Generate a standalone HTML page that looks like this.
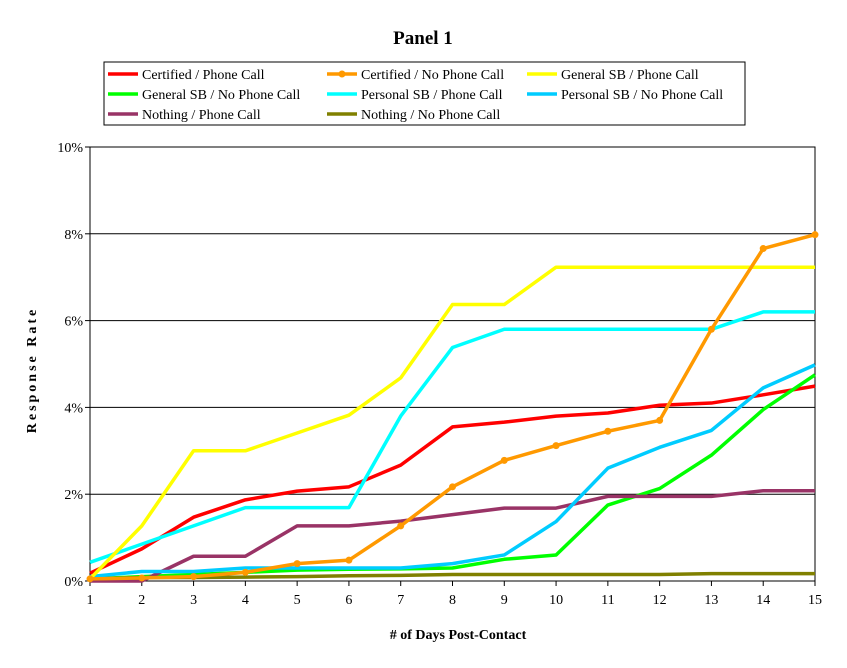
<!DOCTYPE html>
<html><head><meta charset="utf-8"><style>
body{margin:0;background:#fff}
svg text{font-family:"Liberation Serif",serif}
</style></head><body>
<svg id="c" width="847" height="663" xmlns="http://www.w3.org/2000/svg">
<rect width="847" height="663" fill="#fff"/>
<text x="423" y="44" font-size="19" font-weight="bold" text-anchor="middle">Panel 1</text>
<rect x="104" y="62" width="641" height="63" fill="#fff" stroke="#000"/>
<g id="grid"></g>
<rect x="90" y="147" width="725" height="434" fill="none" stroke="#000"/>
<g id="series"></g>
<g id="legend" font-size="14"></g>
<text x="458" y="639" font-size="14" font-weight="bold" text-anchor="middle">#&#160;of Days Post-Contact</text>
<text transform="translate(36,370) rotate(-90)" font-size="14" font-weight="bold" text-anchor="middle" letter-spacing="3">Response Rate</text>
</svg>
<script>
var NS="http://www.w3.org/2000/svg",svg=document.getElementById('c');
function el(t,a,p){var e=document.createElementNS(NS,t);for(var k in a)e.setAttribute(k,a[k]);(p||svg).appendChild(e);return e;}
var g=document.getElementById('grid'),s=document.getElementById('series'),L=document.getElementById('legend');
function X(i){return 90+(i-1)*725/14;}function Y(v){return 581-v*43.4;}
for(var k=0;k<=5;k++){var y=Y(k*2);if(k>0&&k<5)el('line',{x1:90,x2:815,y1:y,y2:y,stroke:'#000'},g);
el('line',{x1:85,x2:90,y1:y,y2:y,stroke:'#000'},g);
var t=el('text',{x:83,y:y+5,'font-size':14,'text-anchor':'end'},g);t.textContent=(k*2)+'%';}
for(var i=1;i<=15;i++){el('line',{x1:X(i),x2:X(i),y1:581,y2:586,stroke:'#000'},g);
var t=el('text',{x:X(i),y:604,'font-size':14,'text-anchor':'middle'},g);t.textContent=i;}
var D=[
['Certified / Phone Call','#ff0000',[0.18,0.74,1.47,1.87,2.07,2.17,2.67,3.55,3.66,3.8,3.87,4.05,4.1,4.29,4.49]],
['General SB / No Phone Call','#00ff00',[0.05,0.1,0.15,0.2,0.25,0.27,0.28,0.3,0.5,0.6,1.75,2.13,2.9,3.95,4.75]],
['Nothing / Phone Call','#993366',[0,0,0.57,0.57,1.27,1.27,1.38,1.53,1.68,1.68,1.95,1.95,1.95,2.08,2.08]],
['Nothing / No Phone Call','#808000',[0.05,0.08,0.08,0.09,0.1,0.12,0.13,0.15,0.15,0.15,0.15,0.15,0.17,0.17,0.17]],
['Personal SB / No Phone Call','#00ccff',[0.1,0.22,0.22,0.3,0.3,0.3,0.3,0.4,0.6,1.37,2.6,3.08,3.47,4.45,4.98]],
['Personal SB / Phone Call','#00ffff',[0.43,0.85,1.27,1.69,1.69,1.69,3.8,5.38,5.8,5.8,5.8,5.8,5.8,6.2,6.2]],
['General SB / Phone Call','#ffff00',[0.05,1.27,3.0,3.0,3.41,3.82,4.68,6.37,6.37,7.23,7.23,7.23,7.23,7.23,7.23]],
['Certified / No Phone Call','#ff9900',[0.05,0.07,0.1,0.2,0.4,0.48,1.27,2.17,2.78,3.12,3.45,3.7,5.8,7.66,7.98]]
];
D.forEach(function(d){var p=d[2].map(function(v,i){return X(i+1)+','+Y(v)}).join(' ');
el('polyline',{points:p,fill:'none',stroke:d[1],'stroke-width':3.5,'stroke-linejoin':'round'},s);
if(d[0]=='Certified / No Phone Call')d[2].forEach(function(v,i){el('circle',{cx:X(i+1),cy:Y(v),r:3.5,fill:d[1]},s)});});
var pos={'Certified / Phone Call':[108,74],'Certified / No Phone Call':[327,74],'General SB / Phone Call':[527,74],
'General SB / No Phone Call':[108,94],'Personal SB / Phone Call':[327,94],'Personal SB / No Phone Call':[527,94],
'Nothing / Phone Call':[108,114],'Nothing / No Phone Call':[327,114]};
D.forEach(function(d){var q=pos[d[0]];el('line',{x1:q[0],x2:q[0]+30,y1:q[1],y2:q[1],stroke:d[1],'stroke-width':3.5},L);
if(d[0]=='Certified / No Phone Call')el('circle',{cx:q[0]+15,cy:q[1],r:3.5,fill:d[1]},L);
var t=el('text',{x:q[0]+34,y:q[1]+5},L);t.textContent=d[0];});
</script>
</body></html>
